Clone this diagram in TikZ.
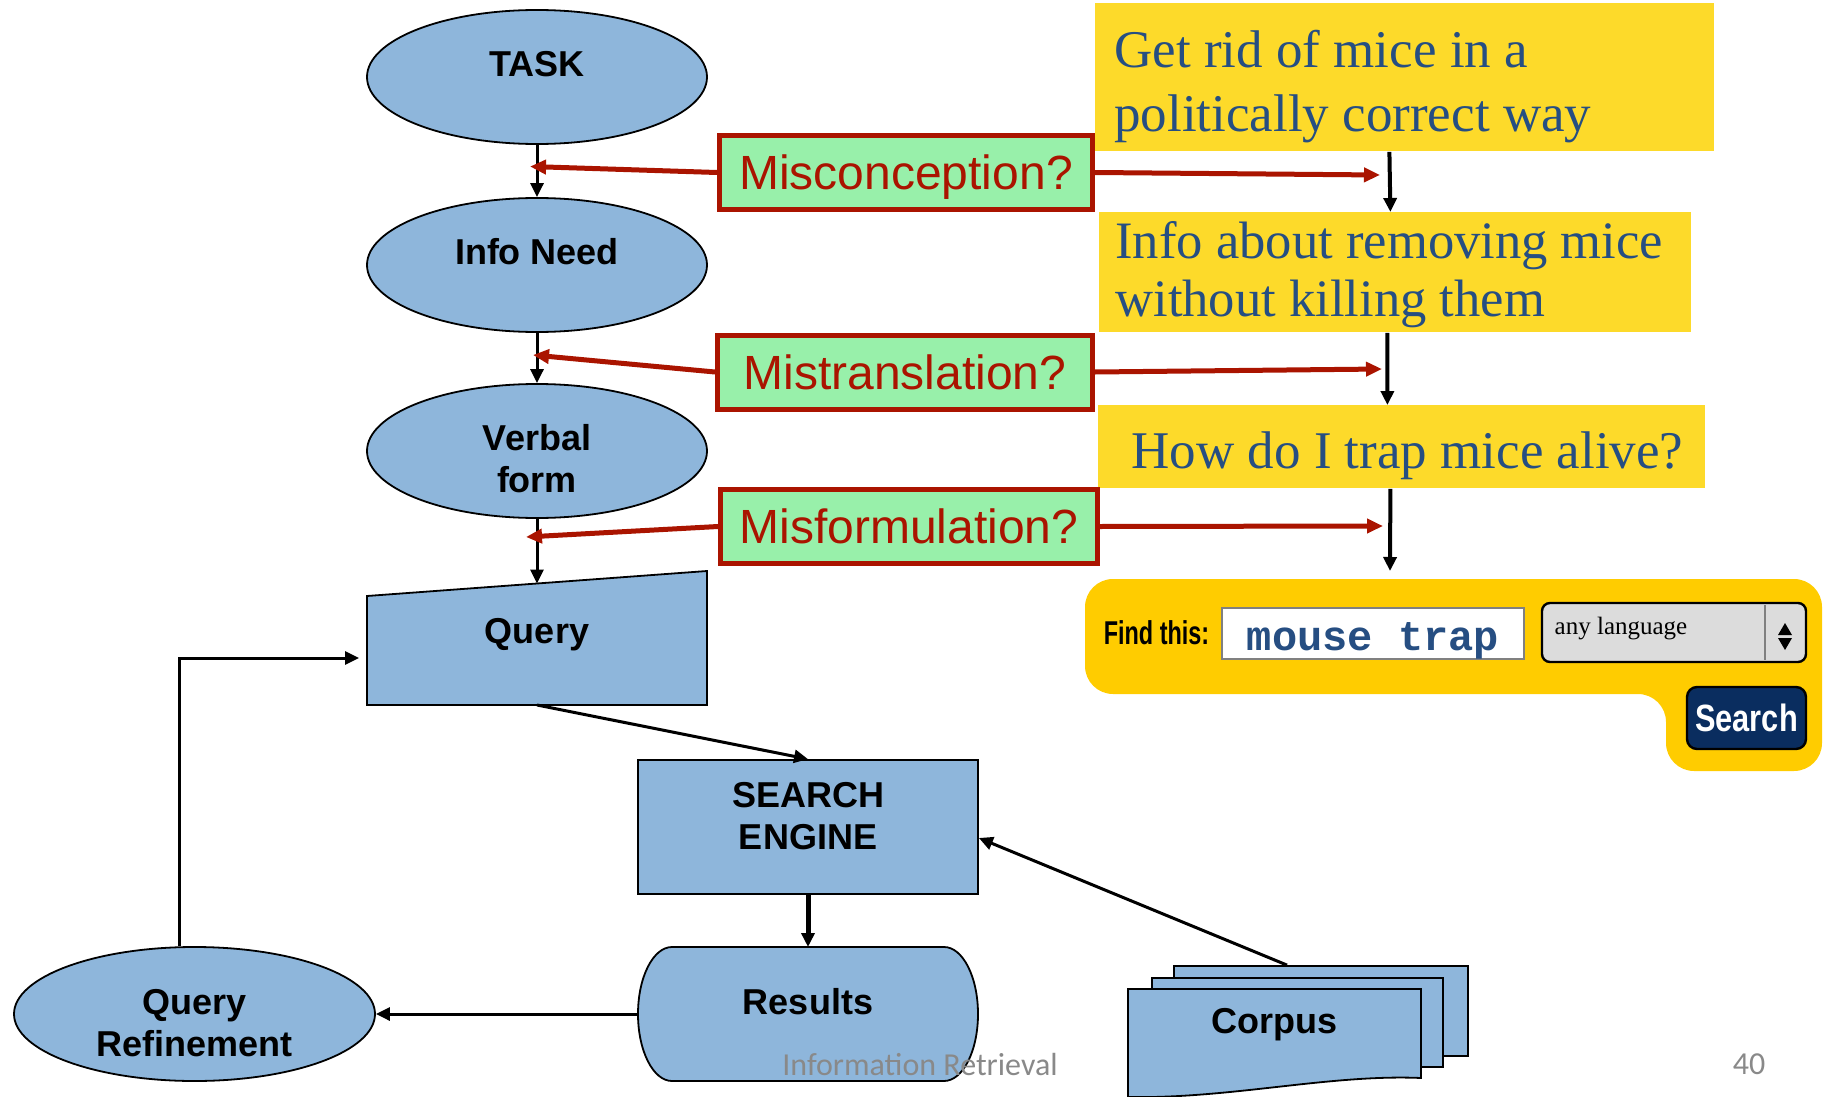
\documentclass[tikz,border=0pt]{standalone}
\usepackage{fontspec}
\setmainfont{Liberation Sans}
\newfontfamily\notefont{Liberation Serif}
\newfontfamily\codefont{Liberation Mono}
\newfontfamily\footfont{Carlito}
\newfontfamily\findfont{Liberation Sans}[FakeStretch=0.71]
\newfontfamily\buttonfont{Liberation Sans}[FakeStretch=0.81]
\usetikzlibrary{shapes.geometric,arrows.meta}

\definecolor{blockblue}{RGB}{142,182,219}
\definecolor{slipred}{RGB}{170,20,0}
\definecolor{warngreen}{RGB}{152,240,170}
\definecolor{noteyellow}{RGB}{253,218,42}
\definecolor{noteblue}{RGB}{38,78,130}
\definecolor{widgetyellow}{RGB}{255,204,0}
\definecolor{buttonnavy}{RGB}{10,45,95}
\definecolor{footgray}{RGB}{137,137,137}
\definecolor{listgray}{RGB}{220,220,220}

\tikzset{
  blob/.style={ellipse, draw, fill=blockblue, line width=0.9pt, minimum width=170pt, minimum height=67pt, inner sep=0pt},
  block/.style={rectangle, draw, fill=blockblue, line width=0.9pt, minimum width=170pt, minimum height=67pt, inner sep=0pt},
  hollow/.style={rectangle, minimum width=170pt, minimum height=67pt, inner sep=0pt, outer sep=0pt},
  page/.style={draw, fill=blockblue, line width=0.9pt, inner sep=0pt},
  tag/.style={font=\bfseries\fontsize{18}{21}\selectfont, align=center},
  warn/.style={rectangle, draw=slipred, line width=2.5pt, fill=warngreen, text=slipred, font=\fontsize{24}{28}\selectfont,
    minimum height=37pt, text depth=0pt},
  note/.style={rectangle, fill=noteyellow, text=noteblue, anchor=north west, text height=20pt,
    execute at begin node={\spaceskip=0pt\relax}},
  flow/.style={-{Triangle[length=7pt,width=6.5pt]}, line width=1.5pt},
  slip/.style={-{Triangle[length=8pt,width=7pt]}, draw=slipred, line width=2.5pt},
}

\begin{document}
\begin{tikzpicture}[x=50pt,y=-50pt]
  \useasboundingbox (0,0) rectangle (18.26,10.97);

  % left column
  \node[blob, label={[tag,yshift=6.5pt]center:TASK}] (task) at (5.37,0.77) {};
  \node[blob, label={[tag,yshift=6.75pt]center:Info Need}] (info) at (5.37,2.65) {};
  \node[blob, label={[tag,yshift=-3.9pt]center:Verbal\\form}] (verbal) at (5.37,4.51) {};
  \path[page] (3.67,7.05) -- (7.07,7.05) -- (7.07,5.71) -- (3.67,5.96) -- cycle;
  \node[hollow, label={[tag,yshift=1.5pt]center:Query}] (query) at (5.37,6.38) {};

  \node[block, label={[tag,yshift=5.5pt]center:SEARCH\\ENGINE}] (se) at (8.08,8.27) {};

  \path[page] (6.72,9.47) -- (9.44,9.47) arc[start angle=-90, end angle=90, x radius=0.34, y radius=0.67]
    -- (6.72,10.81) arc[start angle=90, end angle=270, x radius=0.34, y radius=0.67] -- cycle;
  \node[hollow, label={[tag,yshift=6.25pt]center:Results}] (results) at (8.08,10.14) {};

  \node[blob, minimum width=180.5pt, label={[tag,yshift=-4.5pt]center:Query\\Refinement}] (qref) at (1.945,10.14) {};

  % corpus pages
  \node[page, minimum width=147pt, minimum height=45pt] (pageback) at (13.21,10.11) {};
  \node[page, minimum width=145.5pt, minimum height=44.5pt] (pagemid) at (12.975,10.225) {};
  \path[page] (11.28,9.89) -- (14.21,9.89) -- (14.21,10.78)
    .. controls (13.3,10.74) and (12.3,10.99) .. (11.28,10.97) -- cycle;
  \node[hollow, minimum width=146.5pt, minimum height=54pt, label={[tag,yshift=9pt]center:Corpus}] (corpus) at (12.745,10.43) {};

  \draw[flow] (task) -- (info);
  \draw[flow] (info) -- (verbal);
  \draw[flow] (verbal) -- ([yshift=-6.25pt]query.north);
  \draw[flow] (query.south) -- (se.north);
  \draw[flow, line width=2.5pt] (se) -- (results);
  \draw[flow] (results) -- (qref);
  \draw[flow, shorten >=4pt] ([xshift=-7.5pt]qref.north) |- ([yshift=-10pt]query.west);
  \draw[flow] ([xshift=-17pt]pageback.north) -- ([yshift=-5.5pt]se.east);

  % what the user had in mind
  \node[note, align=flush left, text width=290.5pt, inner xsep=9.5pt, inner ysep=12pt, text depth=30pt,
        font=\notefont\fontsize{26.5}{32}\selectfont] (goal) at (10.95,0.03)
        {Get rid of mice in a\\politically correct way};
  \node[note, align=flush left, text width=280pt, inner xsep=8pt, inner ysep=3.25pt, text depth=33.5pt,
        font=\notefont\fontsize{26.3}{29}\selectfont] (need) at (10.99,2.12)
        {Info about removing mice\\without killing them};
  \node[note, align=flush right, text width=281.5pt, inner xsep=11pt, inner ysep=10pt, text height=21.5pt, text depth=0pt,
        font=\notefont\fontsize{26.5}{30}\selectfont] (trap) at (10.98,4.05)
        {How do I trap mice alive?};

  % search box
  \fill[widgetyellow, rounded corners=14pt] (10.85,5.79) -- (18.22,5.79) -- (18.22,7.71)
    -- (16.66,7.71) -- (16.66,6.94) -- (10.85,6.94) -- cycle;
  \coordinate (widgettop) at (13.90,5.71);
  \node[font=\findfont\bfseries\fontsize{16.5}{18}\selectfont] (findlabel) at (11.565,6.33) {Find this:};
  \node[draw=gray, fill=white, line width=1.2pt, minimum width=151pt, minimum height=25.5pt, inner sep=0pt,
        text height=20pt, text depth=3.5pt, text=noteblue, font=\codefont\bfseries\fontsize{21}{23}\selectfont]
        (field) at (13.73,6.335) {mouse trap};
  \node[draw, fill=listgray, rounded corners=4pt, line width=1.2pt, minimum width=132pt, minimum height=29.5pt] (lang) at (16.74,6.325) {};
  \node[font=\notefont\fontsize{12.5}{14}\selectfont] (langtext) at (16.21,6.29) {any language};
  \draw[line width=0.8pt, gray] (17.65,6.05) -- (17.65,6.60);
  \fill (17.85,6.23) -- (17.78,6.35) -- (17.92,6.35) -- cycle;
  \fill (17.78,6.38) -- (17.92,6.38) -- (17.85,6.50) -- cycle;
  \node[draw, fill=buttonnavy, rounded corners=5pt, line width=1.2pt, minimum width=59.5pt, minimum height=31pt,
        text=white, font=\buttonfont\bfseries\fontsize{19}{21}\selectfont] (searchbtn) at (17.465,7.18) {Search};

  \draw[flow, line width=2pt] ([xshift=-7.75pt]goal.south) -- ([xshift=-2.5pt]need.north);
  \draw[flow, line width=2pt] ([xshift=-4pt]need.south) -- ([xshift=-7.25pt]trap.north);
  \draw[flow, line width=2pt] ([xshift=-5.75pt]trap.south) -- (widgettop);

  % where it can go wrong
  \node[warn, minimum width=186.5pt] (misc) at (9.06,1.725) {Misconception?};
  \node[warn, minimum width=187.5pt] (mistrans) at (9.05,3.72) {Mistranslation?};
  \node[warn, minimum width=188.5pt] (misform) at (9.09,5.265) {Misformulation?};

  \coordinate (miscL) at (5.30,1.665);
  \coordinate (miscR) at (13.80,1.75);
  \coordinate (mistransL) at (5.33,3.55);
  \coordinate (mistransR) at (13.82,3.69);
  \coordinate (misformL) at (5.26,5.37);
  \coordinate (misformR) at (13.83,5.26);

  \draw[slip] (misc.west) -- (miscL);
  \draw[slip] (misc.east) -- (miscR);
  \draw[slip] (mistrans.west) -- (mistransL);
  \draw[slip] (mistrans.east) -- (mistransR);
  \draw[slip] (misform.west) -- (misformL);
  \draw[slip] (misform.east) -- (misformR);

  % footer
  \node[font=\footfont\fontsize{16}{18}\selectfont, text=footgray] (footer) at (9.20,10.64) {Information Retrieval};
  \node[font=\footfont\fontsize{16}{18}\selectfont, text=footgray] (pageno) at (17.49,10.645) {40};
\end{tikzpicture}
\end{document}
